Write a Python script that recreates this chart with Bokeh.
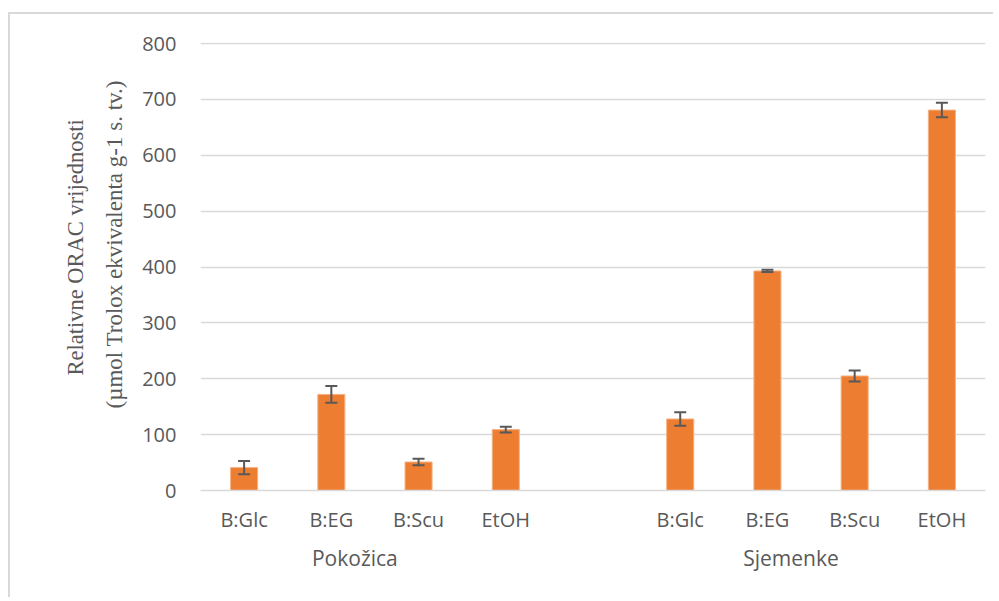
from bokeh.plotting import figure
from bokeh.models import (Range1d, ColumnDataSource, Whisker, TeeHead,
                          Title, FixedTicker, LinearAxis)
from bokeh.embed import file_html
from bokeh.resources import INLINE

# ---- data ----
groups = ["Pokožica", "Sjemenke"]
methods = ["B:Glc", "B:EG", "B:Scu", "EtOH"]
pokozica_vals = [41, 172, 51, 109]
pokozica_err = [12, 15, 6, 5]
sjemenke_vals = [128, 393, 205, 681]
sjemenke_err = [12, 2, 10, 13]
y_ticks = [0, 100, 200, 300, 400, 500, 600, 700, 800]
y_title = ["Relativne ORAC vrijednosti", "(µmol Trolox ekvivalenta g-1 s. tv.)"]

# slot positions: 4 bars, one empty slot, 4 bars
n = len(methods)
xs = [i + 0.5 for i in range(n)] + [n + 1 + i + 0.5 for i in range(n)]
labels = methods + methods
vals = pokozica_vals + sjemenke_vals
errs = pokozica_err + sjemenke_err
src = ColumnDataSource(dict(
    x=xs, top=vals,
    lo=[v - e for v, e in zip(vals, errs)],
    hi=[v + e for v, e in zip(vals, errs)],
))

GRAY = "#595959"
GRID = "#d9d9d9"

p = figure(
    x_range=Range1d(0, 2 * n + 1),
    y_range=Range1d(0, 802),
    width=985, height=585,
    output_backend="svg", toolbar_location=None,
    min_border_left=190, min_border_right=10, min_border_top=28, min_border_bottom=109,
)
p.styles = {"border-left": f"2px solid {GRID}", "border-top": f"2px solid {GRID}",
            "margin-top": "12px", "margin-left": "8px"}
p.outline_line_color = None

p.vbar(x="x", top="top", width=0.31, source=src, fill_color="#ED7D31",
       line_color="#F4B183", line_width=1)

w = Whisker(source=src, base="x", upper="hi", lower="lo",
            line_color=GRAY, line_width=2, level="overlay",
            upper_head=TeeHead(size=12, line_color=GRAY, line_width=2),
            lower_head=TeeHead(size=12, line_color=GRAY, line_width=2))
p.add_layout(w)

# grid
p.xgrid.grid_line_color = None
p.ygrid.grid_line_color = GRID
p.ygrid.grid_line_width = 1.5
p.yaxis.ticker = FixedTicker(ticks=y_ticks)

# y axis
p.yaxis.axis_line_color = None
p.yaxis.major_tick_line_color = None
p.yaxis.minor_tick_line_color = None
p.yaxis.major_label_text_font = "Open Sans"
p.yaxis.major_label_text_font_size = "20px"
p.yaxis.major_label_text_color = GRAY
p.yaxis.major_label_standoff = 18

# x axis (categories)
p.xaxis.ticker = FixedTicker(ticks=xs)
p.xaxis.major_label_overrides = {x: l for x, l in zip(xs, labels)}
p.xaxis.axis_line_color = GRID
p.xaxis.axis_line_width = 1.5
p.xaxis.major_tick_line_color = None
p.xaxis.minor_tick_line_color = None
p.xaxis.major_label_text_font = "Open Sans"
p.xaxis.major_label_text_font_size = "20px"
p.xaxis.major_label_text_color = GRAY
p.xaxis.major_label_standoff = 9

# group labels on a second axis below
group_centers = [n / 2, n + 1 + n / 2]
group_pos = [c - 0.23 for c in group_centers]
gax = LinearAxis(ticker=FixedTicker(ticks=group_pos),
                 major_label_overrides={gp: g for gp, g in zip(group_pos, groups)},
                 axis_line_color=None, major_tick_line_color=None,
                 minor_tick_line_color=None,
                 major_label_text_font="Open Sans", major_label_text_font_size="21px",
                 major_label_text_color=GRAY, major_label_standoff=2)
p.add_layout(gax, "below")

# y axis title (two lines), inner line first
p.add_layout(Title(text=y_title[1], align="left", offset=82, standoff=25,
                   text_font="Liberation Serif", text_font_size="23px",
                   text_font_style="normal", text_color=GRAY), "left")
p.add_layout(Title(text=y_title[0], align="left", offset=115, standoff=0,
                   text_font="Liberation Serif", text_font_size="22.5px",
                   text_font_style="normal", text_color=GRAY), "left")

open("out.html", "w").write(file_html(p, INLINE))
